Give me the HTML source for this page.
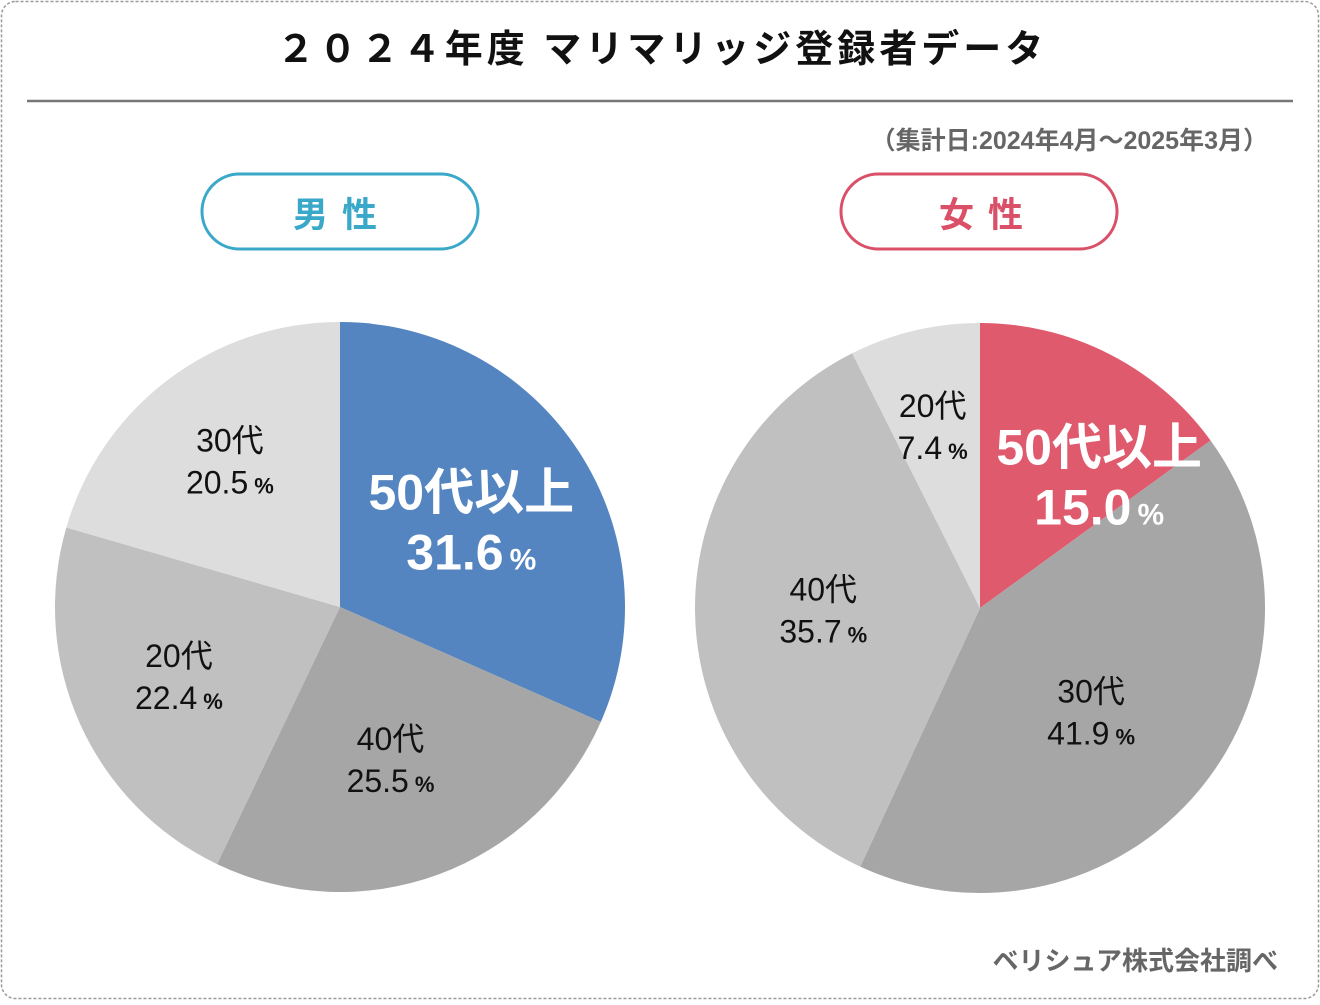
<!DOCTYPE html>
<html><head><meta charset="utf-8">
<style>
html,body{margin:0;padding:0;background:#fff;}
body{width:1320px;height:1000px;overflow:hidden;font-family:"Liberation Sans","Noto Sans CJK JP",sans-serif;}
</style></head>
<body>
<svg id="chart" width="1320" height="1000" viewBox="0 0 1320 1000" xmlns="http://www.w3.org/2000/svg" style="font-family:'Liberation Sans','Noto Sans CJK JP',sans-serif">
  <rect x="1.5" y="1.5" width="1317" height="997" rx="14" fill="#fff" stroke="#9a9a9a" stroke-width="1.5" stroke-dasharray="3 2"/>
  <text x="662" y="62" text-anchor="middle" font-size="38" font-weight="bold" letter-spacing="4" fill="#111">２０２４年度 マリマリッジ登録者データ</text>
  <line x1="27" y1="101" x2="1293" y2="101" stroke="#777" stroke-width="2.5"/>
  <text x="1268" y="149" text-anchor="end" font-size="25" font-weight="bold" fill="#666">（集計日:2024年4月〜2025年3月）</text>
  <g>
    <rect x="202" y="174" width="276" height="75" rx="37.5" fill="#fff" stroke="#3aa8c8" stroke-width="3"/>
    <text x="342" y="227" text-anchor="middle" font-size="35" font-weight="bold" fill="#3aa8c8" letter-spacing="14">男性</text>
  </g>
  <g>
    <rect x="841" y="174" width="276" height="75" rx="37.5" fill="#fff" stroke="#d95068" stroke-width="3"/>
    <text x="988" y="227" text-anchor="middle" font-size="35" font-weight="bold" fill="#d95068" letter-spacing="14">女性</text>
  </g>
  <text x="1278" y="970" text-anchor="end" font-size="26" font-weight="bold" fill="#666">ベリシュア株式会社調べ</text>
  <g id="pies"></g>
</svg>
<script>
const maleCategories = ["50代以上","40代","20代","30代"];
const maleValues = [31.6,25.5,22.4,20.5];
const femaleCategories = ["50代以上","30代","40代","20代"];
const femaleValues = [15.0,41.9,35.7,7.4];

const NS="http://www.w3.org/2000/svg";
const root=document.getElementById('pies');
function mk(tag,attrs){const e=document.createElementNS(NS,tag);for(const k in attrs)e.setAttribute(k,attrs[k]);return e;}
function drawPie(cats,vals,cx,cy,r,colors,labelR,offsets,bigIdx,prefix){
  const total=vals.reduce((a,b)=>a+b,0);
  let acc=0;
  const g=mk('g',{});
  
  
  root.appendChild(g);
  const lg=mk('g',{});
  
  
  vals.forEach((v,i)=>{
    const a0=acc/total*2*Math.PI, a1=(acc+v)/total*2*Math.PI; acc+=v;
    const x0=cx+r*Math.sin(a0), y0=cy-r*Math.cos(a0), x1=cx+r*Math.sin(a1), y1=cy-r*Math.cos(a1);
    const large=(a1-a0)>Math.PI?1:0;
    const p=mk('path',{d:`M${cx},${cy} L${x0},${y0} A${r},${r} 0 ${large} 1 ${x1},${y1} Z`,fill:colors[i]});
    
    
    g.appendChild(p);
    const am=(a0+a1)/2;
    const lx=cx+labelR[i]*r*Math.sin(am)+offsets[i][0], ly=cy-labelR[i]*r*Math.cos(am)+offsets[i][1];
    const big=i===bigIdx;
    const t=mk('text',{x:lx,y:big?ly-12:ly-10,'text-anchor':'middle','font-size':big?50:32,'font-weight':big?'bold':'normal',fill:big?'#fff':'#111'});
    t.textContent=cats[i];
    
    
    lg.appendChild(t);
    const t2=mk('text',{x:lx,y:big?ly+48:ly+32,'text-anchor':'middle','font-size':big?50:32,'font-weight':big?'bold':'normal',fill:big?'#fff':'#111'});
    t2.textContent=v.toFixed(1);
    const ts=mk('tspan',{'font-size':big?30:22,'font-weight':'bold',dx:6});
    ts.textContent='%';
    t2.appendChild(ts);
    
    
    lg.appendChild(t2);
  });
  g.appendChild(lg);
}
drawPie(maleCategories,maleValues,340,607,285,["#5585c0","#a6a6a6","#c0c0c0","#dddddd"],[0.55,0.55,0.55,0.55],[[0,0],[-4,6],[-18,6],[-16,-20]],0,'male');
drawPie(femaleCategories,femaleValues,980,608,285,["#e05a6e","#a6a6a6","#c0c0c0","#dddddd"],[0.55,0.55,0.55,0.66],[[48,8],[-10,5],[0,0],[-4,2]],0,'female');
</script>
</body></html>
